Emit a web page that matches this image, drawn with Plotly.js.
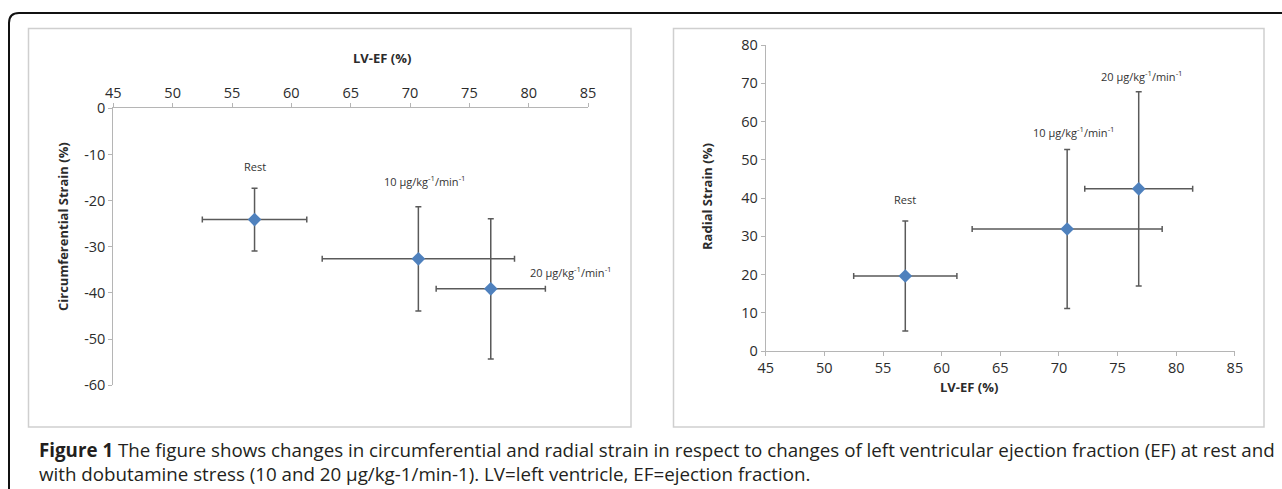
<!DOCTYPE html>
<html>
<head>
<meta charset="utf-8">
<script src="https://cdn.plot.ly/plotly-3.0.1.min.js"></script>
<style>
html,body{margin:0;padding:0;background:#fff;}
#chart{width:1282px;height:489px;}
</style>
</head>
<body>
<div id="chart"></div>
<script>
// ---- data ----
const stages = ['Rest', '10 µg/kg<sup>-1</sup>/min<sup>-1</sup>', '20 µg/kg<sup>-1</sup>/min<sup>-1</sup>'];
const lvef = [56.9, 70.7, 76.8];          // LV-EF (%)
const lvefErr = [4.4, 8.1, 4.6];          // SD of LV-EF
const circStrain = [-24.1, -32.6, -39.1]; // circumferential strain (%)
const circErr = [6.8, 11.3, 15.2];
const radialStrain = [19.6, 31.9, 42.4];  // radial strain (%)
const radialErr = [14.4, 20.8, 25.4];
const xTicks = [45, 50, 55, 60, 65, 70, 75, 80, 85];
const circTicks = [0, -10, -20, -30, -40, -50, -60];
const circTickText = ['0', '-10', '-20', '-30', '-40', '-50', '-60'];
const radialTicks = [0, 10, 20, 30, 40, 50, 60, 70, 80];
const captionLine1 = '<b>Figure 1</b> The figure shows changes in circumferential and radial strain in respect to changes of left ventricular ejection fraction (EF) at rest and';
const captionLine2 = 'with dobutamine stress (10 and 20 µg/kg-1/min-1). LV=left ventricle, EF=ejection fraction.';

// ---- layout helpers ----
const W = 1282, H = 489;
const X = p => p / W;
const Y = p => 1 - p / H;

// label offsets relative to each point (data units)
const circLabelOff = [[0, 11.4], [0.6, 16.9], [6.8, 3.7]];
const radialLabelOff = [[0, 20.1], [0.6, 25.4], [0.25, 29.5]];

const markerStyle = {symbol: 'diamond', size: 10.5, color: '#4f81bd'};
const errStyle = {color: '#5a5a5a', thickness: 1.5, width: 3};

const traces = [
  {
    x: lvef, y: circStrain, type: 'scatter', mode: 'markers',
    xaxis: 'x', yaxis: 'y', marker: markerStyle, cliponaxis: false,
    error_x: Object.assign({type: 'data', array: lvefErr, visible: true}, errStyle),
    error_y: Object.assign({type: 'data', array: circErr, visible: true}, errStyle),
    hoverinfo: 'x+y', showlegend: false
  },
  {
    x: lvef, y: radialStrain, type: 'scatter', mode: 'markers',
    xaxis: 'x2', yaxis: 'y2', marker: markerStyle, cliponaxis: false,
    error_x: Object.assign({type: 'data', array: lvefErr, visible: true}, errStyle),
    error_y: Object.assign({type: 'data', array: radialErr, visible: true}, errStyle),
    hoverinfo: 'x+y', showlegend: false
  }
];

const axisBase = {
  showline: true, linecolor: '#b5b5b5', linewidth: 1,
  ticks: 'outside', ticklen: 4, tickcolor: '#b5b5b5', tickwidth: 1,
  showgrid: false, zeroline: false, fixedrange: true,
  tickfont: {family: 'Open Sans', size: 14.5, color: '#2b2b2b'}
};

const annotations = [];
const labelFont = {family: 'Open Sans', size: 11, color: '#333'};
stages.forEach((s, i) => {
  annotations.push({
    xref: 'x', yref: 'y', x: lvef[i] + circLabelOff[i][0], y: circStrain[i] + circLabelOff[i][1],
    text: s, showarrow: false, font: labelFont
  });
  annotations.push({
    xref: 'x2', yref: 'y2', x: lvef[i] + radialLabelOff[i][0], y: radialStrain[i] + radialLabelOff[i][1],
    text: s, showarrow: false, font: labelFont
  });
});

const titleFont = {family: 'Open Sans', size: 13, color: '#2b2b2b'};
annotations.push(
  {xref: 'paper', yref: 'paper', x: X(351), y: Y(47), text: '<b>LV-EF (%)</b>', showarrow: false, font: titleFont},
  {xref: 'paper', yref: 'paper', x: X(52), y: Y(227), text: '<b>Circumferential Strain (%)</b>', textangle: -90, showarrow: false, font: titleFont},
  {xref: 'paper', yref: 'paper', x: X(707), y: Y(197), text: '<b>Radial Strain (%)</b>', textangle: -90, showarrow: false, font: titleFont},
  {xref: 'paper', yref: 'paper', x: X(1000), y: Y(398), text: '<b>LV-EF (%)</b>', showarrow: false, font: titleFont}
);

// caption font size fitted to the reference line width
const capFamily = 'Open Sans';
const cv = document.createElement('canvas').getContext('2d');
cv.font = 'bold 16px "' + capFamily + '"';
let wBold = cv.measureText('Figure 1').width;
cv.font = '16px "' + capFamily + '"';
let wRest = cv.measureText(' The figure shows changes in circumferential and radial strain in respect to changes of left ventricular ejection fraction (EF) at rest and').width;
let capSize = 16 * 1236 / (wBold + wRest);
if (!isFinite(capSize) || capSize < 10 || capSize > 20) capSize = 14.5;
const capFont = {family: capFamily, size: capSize, color: '#231f20'};
annotations.push(
  {xref: 'paper', yref: 'paper', x: X(37), y: Y(461), xanchor: 'left', yanchor: 'middle',
   text: captionLine1 + '<br>' + captionLine2, showarrow: false, font: capFont, align: 'left'}
);

const r = 10;
const framePath = `M ${X(9)},${Y(489)} L ${X(9)},${Y(13 + r)} Q ${X(9)},${Y(13)} ${X(9 + r)},${Y(13)} L ${X(1282)},${Y(13)}`;

const shapes = [
  {type: 'path', xref: 'paper', yref: 'paper', path: framePath, line: {color: '#111', width: 2}},
  {type: 'rect', xref: 'paper', yref: 'paper', x0: X(28.5), x1: X(631), y0: Y(427), y1: Y(28.5), line: {color: '#cfcfcf', width: 1.5}},
  {type: 'rect', xref: 'paper', yref: 'paper', x0: X(673.5), x1: X(1264), y0: Y(427), y1: Y(28.5), line: {color: '#cfcfcf', width: 1.5}}
];

const layout = {
  width: W, height: H, autosize: false,
  margin: {l: 0, r: 0, t: 0, b: 0, pad: 0},
  paper_bgcolor: '#fff', plot_bgcolor: 'rgba(0,0,0,0)',
  showlegend: false,
  xaxis: Object.assign({}, axisBase, {domain: [X(113.3), X(588.1)], range: [45, 85], side: 'top', anchor: 'y', tickvals: xTicks}),
  yaxis: Object.assign({}, axisBase, {domain: [Y(385.3), Y(108.3)], range: [-60, 0], anchor: 'x', tickvals: circTicks, ticktext: circTickText}),
  xaxis2: Object.assign({}, axisBase, {domain: [X(765.7), X(1234.9)], range: [45, 85], anchor: 'y2', tickvals: xTicks}),
  yaxis2: Object.assign({}, axisBase, {domain: [Y(351), Y(45)], range: [0, 80], anchor: 'x2', tickvals: radialTicks}),
  annotations: annotations,
  shapes: shapes
};

Plotly.newPlot('chart', traces, layout, {displayModeBar: false, staticPlot: true});
</script>
</body>
</html>
